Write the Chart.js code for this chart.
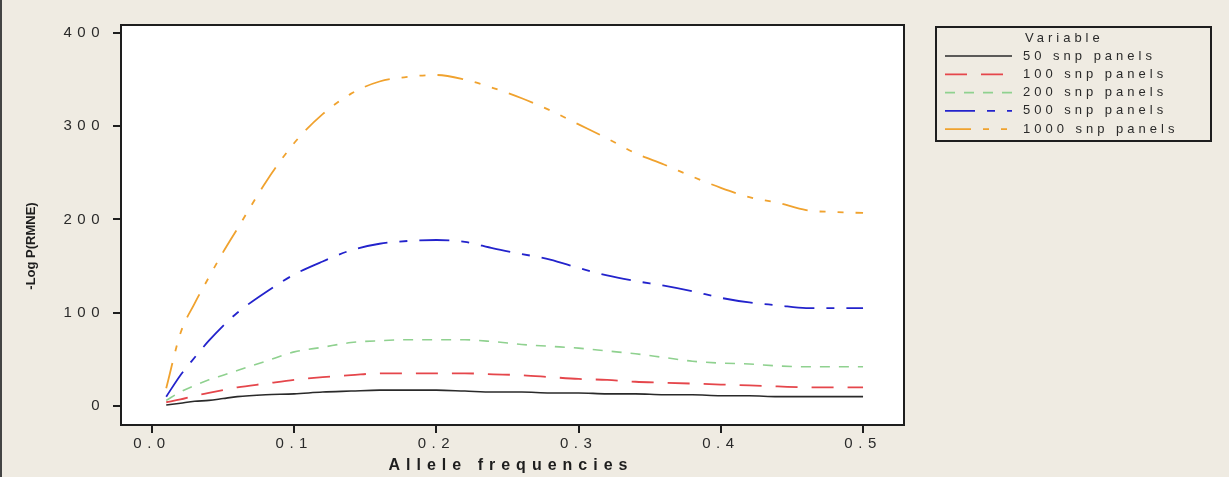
<!DOCTYPE html>
<html>
<head>
<meta charset="utf-8">
<script src="https://cdn.jsdelivr.net/npm/chart.js@4.4.0/dist/chart.umd.min.js"></script>
<style>
  html, body { margin: 0; padding: 0; background: #efebe2; }
  body { width: 1229px; height: 477px; overflow: hidden; box-sizing: border-box; border-left: 2px solid #444; }
  #wrap { position: absolute; left: 0; top: 0; width: 1229px; height: 477px; }
</style>
</head>
<body>
<div id="wrap"><canvas id="chart" width="1229" height="477"></canvas></div>
<script>
// allele frequency (x) and -log P(RMNE) for each panel size
var freq = [0.01, 0.02, 0.03, 0.04, 0.05, 0.06, 0.08, 0.10, 0.12, 0.14, 0.16, 0.18, 0.20, 0.22,
            0.24, 0.26, 0.28, 0.30, 0.32, 0.34, 0.36, 0.38, 0.40, 0.42, 0.44, 0.46, 0.48, 0.50];
var snp50   = [1, 3, 5, 6, 8, 10, 12, 13, 15, 16, 17, 17, 17, 16, 15, 15, 14, 14, 13, 13, 12, 12, 11, 11, 10, 10, 10, 10];
var snp100  = [4, 7, 11, 14, 17, 20, 24, 28, 31, 33, 35, 35, 35, 35, 34, 33, 31, 29, 28, 26, 25, 24, 23, 22, 21, 20, 20, 20];
var snp200  = [6, 15, 22, 28, 33, 38, 48, 58, 63, 68, 70, 71, 71, 71, 69, 66, 64, 62, 59, 56, 52, 48, 46, 45, 43, 42, 42, 42];
var snp500  = [10, 33, 52, 70, 86, 100, 122, 141, 155, 167, 174, 177, 178, 176, 169, 163, 157, 148, 140, 134, 129, 123, 116, 111, 108, 105, 105, 105];
var snp1000 = [19, 78, 110, 138, 165, 190, 240, 282, 313, 335, 348, 353, 355, 350, 341, 330, 317, 302, 287, 271, 259, 246, 234, 224, 218, 210, 208, 207];

var seriesNames = ["50 snp panels", "100 snp panels", "200 snp panels", "500 snp panels", "1000 snp panels"];
var xTicks = [0, 0.1, 0.2, 0.3, 0.4, 0.5];
var yTicks = [0, 100, 200, 300, 400];

var colors = ["#2a2a2a", "#e5464b", "#8fd18f", "#2323cc", "#f0a22e"];
var dashes = [[], [22, 14], [10, 9], [30, 12, 8, 12], [26, 12, 6, 12, 6, 12]];
var widths = [1.6, 1.8, 1.6, 1.8, 1.8];

function pts(arr) {
  return freq.map(function (f, i) { return { x: f, y: arr[i] }; });
}

var allSeries = [snp50, snp100, snp200, snp500, snp1000];
var datasets = allSeries.map(function (s, i) {
  return {
    label: seriesNames[i],
    data: pts(s),
    borderColor: colors[i],
    borderWidth: widths[i],
    borderDash: dashes[i],
    pointRadius: 0,
    cubicInterpolationMode: 'monotone',
    fill: false
  };
});

var framePlugin = {
  id: 'frame',
  beforeDraw: function (chart) {
    var ctx = chart.ctx, a = chart.chartArea;
    ctx.save();
    ctx.fillStyle = '#ffffff';
    ctx.fillRect(a.left, a.top, a.right - a.left, a.bottom - a.top);
    ctx.restore();
    ctx.letterSpacing = '5.5px';
  },
  afterDraw: function (chart) {
    var ctx = chart.ctx, a = chart.chartArea;
    ctx.save();
    // plot frame
    ctx.strokeStyle = '#1e1e1e';
    ctx.lineWidth = 2;
    ctx.setLineDash([]);
    ctx.strokeRect(a.left, a.top, a.right - a.left, a.bottom - a.top);

    // axis titles
    ctx.fillStyle = '#1e1e1e';
    ctx.textBaseline = 'middle';
    ctx.textAlign = 'center';
    ctx.letterSpacing = '6px';
    ctx.font = 'bold 16px "Liberation Sans", Arial, sans-serif';
    ctx.fillText('Allele frequencies', 511, 466);

    ctx.save();
    ctx.translate(31, 246);
    ctx.rotate(-Math.PI / 2);
    ctx.letterSpacing = '0px';
    ctx.font = 'bold 13px "Liberation Sans", Arial, sans-serif';
    ctx.fillText('-Log P(RMNE)', 0, 0);
    ctx.restore();

    // legend box
    var bx = 936, by = 27, bw = 275, bh = 114;
    ctx.lineWidth = 2;
    ctx.strokeStyle = '#1e1e1e';
    ctx.strokeRect(bx, by, bw, bh);
    ctx.textAlign = 'left';
    ctx.letterSpacing = '4px';
    ctx.font = '13px "Liberation Sans", Arial, sans-serif';
    ctx.fillStyle = '#2a2a2a';
    ctx.fillText('Variable', 1025, 38);
    for (var i = 0; i < seriesNames.length; i++) {
      var y = 56 + i * 18.3;
      ctx.beginPath();
      ctx.strokeStyle = colors[i];
      ctx.lineWidth = widths[i];
      ctx.setLineDash(dashes[i]);
      ctx.moveTo(945, y);
      ctx.lineTo(1012, y);
      ctx.stroke();
      ctx.fillStyle = '#2a2a2a';
      ctx.fillText(seriesNames[i], 1023, y);
    }
    ctx.restore();
  }
};

new Chart(document.getElementById("chart"), {
  type: 'line',
  data: { datasets: datasets },
  plugins: [framePlugin],
  options: {
    responsive: false,
    animation: false,
    layout: { padding: { left: 0, right: 325, top: 25, bottom: 0 } },
    plugins: {
      legend: { display: false },
      tooltip: { enabled: false }
    },
    scales: {
      x: {
        type: 'linear',
        min: -0.0218,
        max: 0.5288,
        afterBuildTicks: function (scale) {
          scale.ticks = xTicks.map(function (v) { return { value: v }; });
        },
        afterFit: function (scale) { scale.height = 52; },
        grid: { drawOnChartArea: false, drawTicks: true, tickLength: 8, color: '#1e1e1e', lineWidth: 2 },
        border: { display: false },
        ticks: {
          padding: 2,
          color: '#2a2a2a',
          maxRotation: 0,
          font: { size: 15, family: '"Liberation Sans", Arial, sans-serif' },
          callback: function (v) { return Number(v).toFixed(1); }
        }
      },
      y: {
        min: -20.4,
        max: 408.6,
        afterBuildTicks: function (scale) {
          scale.ticks = yTicks.map(function (v) { return { value: v }; });
        },
        afterFit: function (scale) { scale.width = 121; },
        grid: { drawOnChartArea: false, drawTicks: true, tickLength: 8, color: '#1e1e1e', lineWidth: 2 },
        border: { display: false },
        ticks: {
          padding: 8,
          color: '#2a2a2a',
          font: { size: 15, family: '"Liberation Sans", Arial, sans-serif' },
          callback: function (v) { return String(v); }
        }
      }
    }
  }
});
</script>
</body>
</html>
